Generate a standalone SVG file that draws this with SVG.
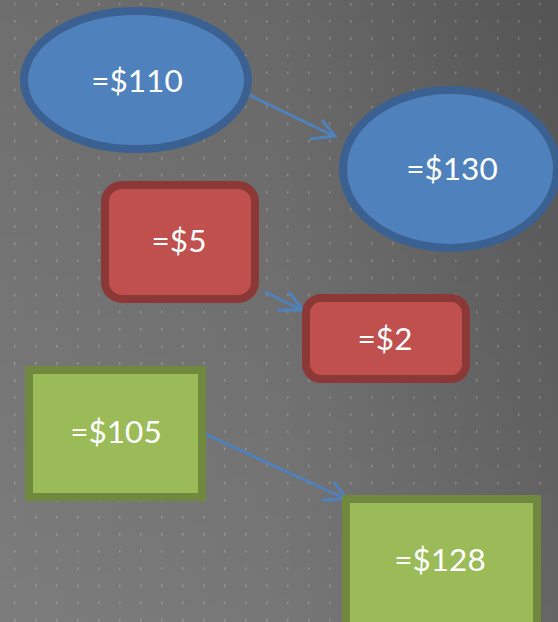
<svg xmlns="http://www.w3.org/2000/svg" width="558" height="622" viewBox="0 0 558 622">
  <defs>
    <linearGradient id="bgH" x1="0" y1="0" x2="1" y2="0">
      <stop offset="0" stop-color="#6e6e6e"/>
      <stop offset="0.5" stop-color="#686868"/>
      <stop offset="1" stop-color="#545454"/>
    </linearGradient>
    <linearGradient id="bgV" x1="0" y1="0" x2="0" y2="1">
      <stop offset="0" stop-color="#ffffff" stop-opacity="0"/>
      <stop offset="1" stop-color="#ffffff" stop-opacity="0.1"/>
    </linearGradient>
    <pattern id="dots" x="14" y="3" width="21" height="17.1" patternUnits="userSpaceOnUse">
      <rect x="0" y="0" width="1.5" height="2.5" fill="#ffffff" fill-opacity="0.22"/>
    </pattern>
    <style>
      .blueE { fill: #4f81bd; stroke: #3b6192; stroke-width: 8; }
      .redR { fill: #c0504d; stroke: #8c3836; stroke-width: 8; }
      .greenR { fill: #9bbb59; stroke: #71893f; stroke-width: 8; }
      .lbl { font-family: Lato, "Open Sans", "Liberation Sans", sans-serif; font-size: 31.5px; fill: #ffffff; text-anchor: middle; }
      .conn { fill: none; stroke: #4f81bd; stroke-width: 3; }
    </style>
  </defs>
  <rect width="558" height="622" fill="url(#bgH)"/>
  <rect width="558" height="622" fill="url(#bgV)"/>
  <rect width="558" height="622" fill="url(#dots)"/>

  <g id="connectors">
    <path class="conn" d="M243,92 L334,136"/>
    <path class="conn" d="M322,120 L335,136 L310,139"/>
    <path class="conn" d="M265,292 L302,310"/>
    <path class="conn" d="M289,292 L303,310 L277,310"/>
    <path class="conn" d="M203,433 L346,499"/>
    <path class="conn" d="M334,482 L347,499 L322,500"/>
  </g>

  <g id="node-110">
    <ellipse class="blueE" cx="136" cy="80" rx="112" ry="69"/>
    <text class="lbl" x="137" y="92">=$110</text>
  </g>
  <g id="node-130">
    <ellipse class="blueE" cx="450" cy="169" rx="107" ry="79"/>
    <text class="lbl" x="452" y="180">=$130</text>
  </g>
  <g id="node-5">
    <rect class="redR" x="105" y="185" width="150" height="114" rx="17"/>
    <text class="lbl" x="179" y="252">=$5</text>
  </g>
  <g id="node-2">
    <rect class="redR" x="306" y="298" width="160" height="81" rx="15"/>
    <text class="lbl" x="385" y="350">=$2</text>
  </g>
  <g id="node-105">
    <rect class="greenR" x="29" y="370" width="173" height="127"/>
    <text class="lbl" x="116" y="443">=$105</text>
  </g>
  <g id="node-128">
    <rect class="greenR" x="346" y="499" width="191" height="135"/>
    <text class="lbl" x="440" y="571">=$128</text>
  </g>
</svg>
